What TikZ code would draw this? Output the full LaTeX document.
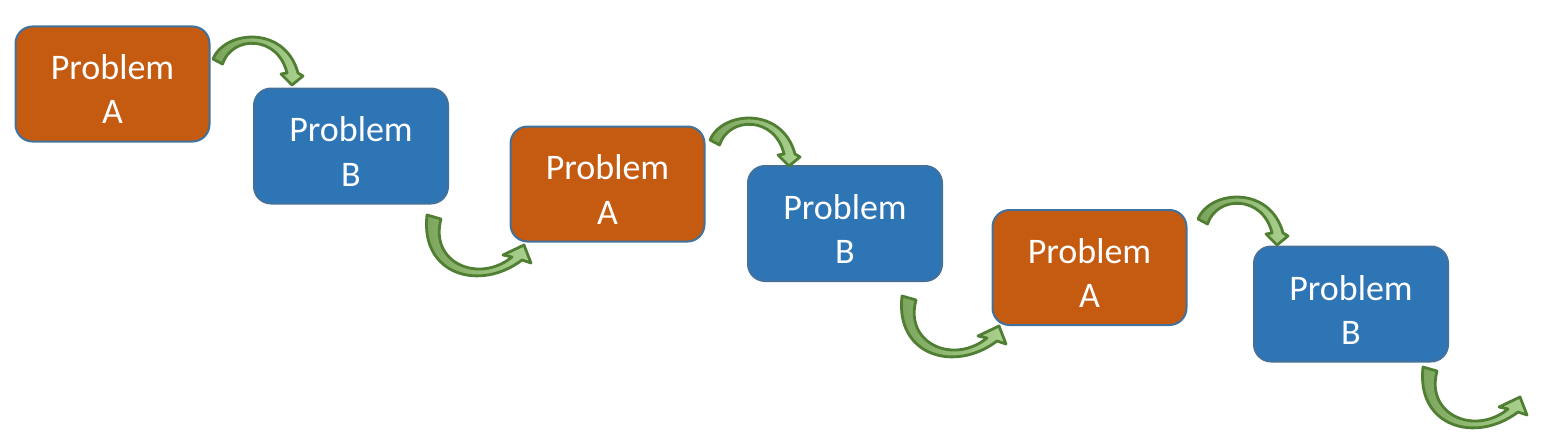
\documentclass[tikz,border=0pt]{standalone}
\usepackage{fontspec}
\setmainfont{Carlito}
\definecolor{boxorange}{HTML}{C55A11}
\definecolor{boxblue}{HTML}{2E75B6}
\definecolor{boxedge}{HTML}{41719C}
\definecolor{arrowedge}{HTML}{507E32}
\definecolor{arrowdark}{HTML}{7AA35A}
\definecolor{arrowlight}{HTML}{AAD28F}
\begin{document}
\begin{tikzpicture}[x=1pt,y=-1pt,
  pbox/.style={draw=boxedge, line width=2pt, rounded corners=17pt,
    minimum width=194pt, minimum height=115pt, inner sep=0pt},
  pa/.style={pbox, fill=boxorange},
  pb/.style={pbox, fill=boxblue},
  lbl/.style={text=white, align=center, font=\fontsize{36}{44}\selectfont, inner sep=0pt},
  barrow/.style={draw=arrowedge, line width=2.8pt, line join=round,
    left color=arrowdark, right color=arrowlight},
  overarr/.pic={\path[barrow] (0,0) .. controls (12,-29) and (72,-34) .. (85,14)
      -- (90,17) -- (79,26) -- (68,15) -- (74,14)
      .. controls (65,-24) and (19,-24) .. (9.5,5) -- cycle;},
  underarr/.pic={\path[barrow] (0,0) .. controls (-7,60) and (53,77) .. (95,45)
      -- (104,48) -- (97,30) -- (76,40) -- (85,42)
      .. controls (52,69) and (2,48) .. (14,4) -- cycle;}
]
\useasboundingbox (0,0) rectangle (1546,444);

\node[pa] (b1) at (112.5,84) {};
\node[pb] (b2) at (351,146) {};
\node[pa] (b3) at (607.5,184) {};
\node[pb] (b4) at (845,223.5) {};
\node[pa] (b5) at (1089.5,267.5) {};
\node[pb] (b6) at (1351,304) {};

\node[lbl] (t1) at ([yshift=-5.5pt]b1.center) {Problem\\A};
\node[lbl] (t2) at ([yshift=-5.5pt]b2.center) {Problem\\B};
\node[lbl] (t3) at ([yshift=-5.5pt]b3.center) {Problem\\A};
\node[lbl] (t4) at ([yshift=-5.5pt]b4.center) {Problem\\B};
\node[lbl] (t5) at ([yshift=-5.5pt]b5.center) {Problem\\A};
\node[lbl] (t6) at ([yshift=-5.5pt]b6.center) {Problem\\B};

\coordinate (o1) at (213,59);
\coordinate (o3) at (710,140);
\coordinate (o5) at (1198,219);
\coordinate (u2) at (427,215);
\coordinate (u4) at (902,296);
\coordinate (u6) at (1423,367);

\pic at (o1) {overarr};
\pic at (o3) {overarr};
\pic at (o5) {overarr};
\pic at (u2) {underarr};
\pic at (u4) {underarr};
\pic at (u6) {underarr};
\end{tikzpicture}
\end{document}
